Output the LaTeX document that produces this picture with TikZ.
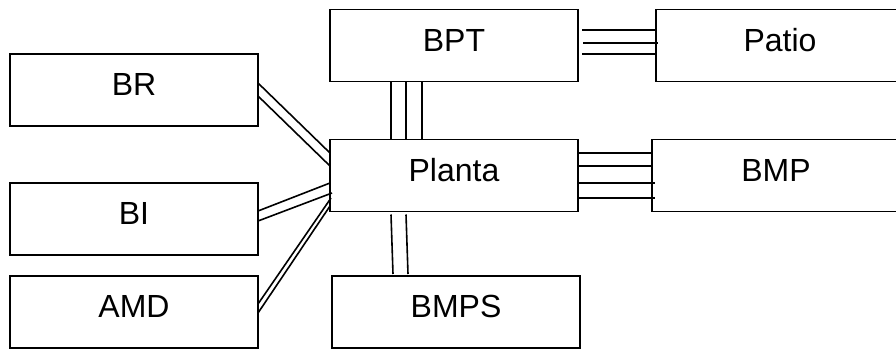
\documentclass[tikz,border=0pt]{standalone}
\usepackage{fontspec}
\setmainfont{Liberation Sans}
\usepackage{tikz}
\usetikzlibrary{calc}
\tikzset{
  unitbox/.style={
    draw, line width=1.6pt, minimum width=248pt, minimum height=72pt,
    inner sep=0pt, outer sep=0pt, text height=23pt, text depth=12pt,
    font=\fontsize{32}{38}\selectfont
  },
  link/.style={line width=1.6pt, black}
}
\begin{document}
\begin{tikzpicture}[x=1pt, y=-1pt]
  \useasboundingbox (0,0) rectangle (896,351);
  \clip (0,0) rectangle (896,351);
  \node[unitbox] (br) at (134,90) {BR};
  \node[unitbox] (bi) at (134,219) {BI};
  \node[unitbox] (amd) at (134,312) {AMD};
  \node[unitbox] (bpt) at (454,45.5) {BPT};
  \node[unitbox] (planta) at (454,175.5) {Planta};
  \node[unitbox] (bmps) at (456,312) {BMPS};
  \node[unitbox] (patio) at (780,45.5) {Patio};
  \node[unitbox] (bmp) at (776,175.5) {BMP};
  % left side links
  \draw[link] ([yshift=7pt]br.east) -- ([yshift=22.5pt]planta.west);
  \draw[link] ([yshift=-6pt]br.east) -- ([yshift=9.5pt]planta.west);
  \draw[link] ([yshift=8pt]bi.east) -- ([yshift=-7.5pt]planta.west);
  \draw[link] ([yshift=-2pt]bi.east) -- ([xshift=2pt,yshift=-17.5pt]planta.west);
  \draw[link] ([yshift=8pt]amd.east) -- ([xshift=1pt,yshift=-22.5pt]planta.west);
  \draw[link] ([yshift=-1pt]amd.east) -- ([yshift=-30.5pt]planta.west);
  % vertical links
  \foreach \dx in {-63,-48,-32}
    \draw[link] ([xshift=\dx pt]bpt.south) -- ([xshift=\dx pt]planta.north);
  \foreach \dx in {-63,-48}
    \draw[link] ([xshift=\dx pt,yshift=-3pt]planta.south) -- ([xshift=\dx pt,yshift=2pt]bmps.north);
  % right side links
  \draw[link] ([xshift=4pt,yshift=15.5pt]bpt.east) -- ([yshift=15.5pt]patio.west);
  \draw[link] ([xshift=5pt,yshift=2.5pt]bpt.east) -- ([xshift=2pt,yshift=2.5pt]patio.west);
  \draw[link] ([xshift=4pt,yshift=-8.5pt]bpt.east) -- ([yshift=-8.5pt]patio.west);
  \foreach \dy/\ex in {22.5/0,9.5/0,-7.5/3,-22.5/3}
    \draw[link] ([yshift=\dy pt]planta.east) -- ([xshift=\ex pt,yshift=\dy pt]bmp.west);
\end{tikzpicture}
\end{document}
